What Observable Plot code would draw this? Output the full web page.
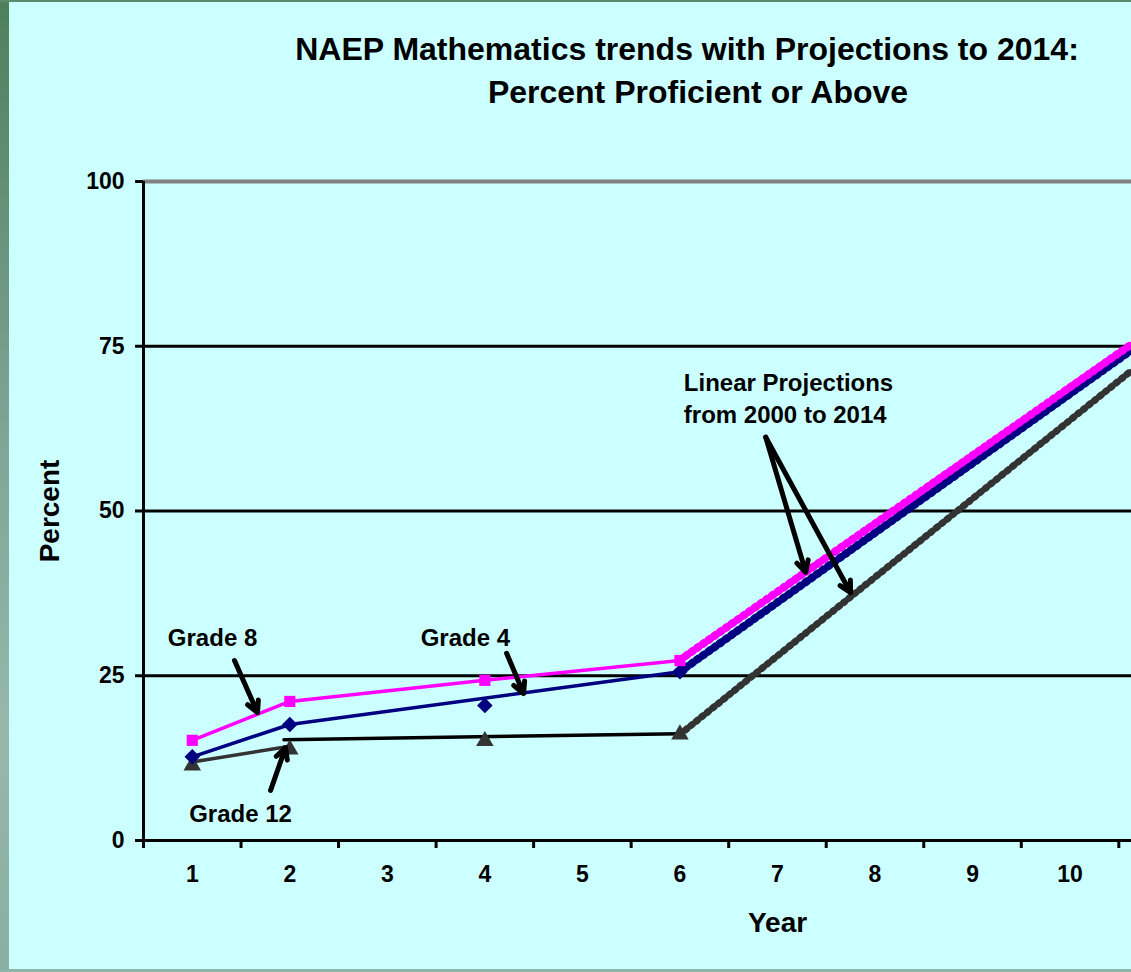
<!DOCTYPE html>
<html><head><meta charset="utf-8">
<script src="https://cdn.jsdelivr.net/npm/d3@7"></script>
<script src="https://cdn.jsdelivr.net/npm/@observablehq/plot@0.6"></script>
<style>
html,body{margin:0;padding:0;background:#CCFFFF;}
#page{position:relative;width:1131px;height:972px;background:#CCFFFF;overflow:hidden;font-family:"Liberation Sans",Arial,sans-serif;color:#000;}
.t{position:absolute;font-weight:bold;font-size:32px;white-space:nowrap;transform:translateX(-50%);line-height:32px;}
#chart{position:absolute;top:130px;left:0;}
#lb{position:absolute;left:0;top:0;width:9px;height:972px;background:linear-gradient(#4e7f5c,#7ea596 45%,#95b8ab 75%,#8aaea0);}
#tb{position:absolute;left:0;top:0;width:1131px;height:2px;background:#5d8c6c;}
#bb{position:absolute;left:0;top:969px;width:1131px;height:3px;background:#8fb3a6;}
</style>
</head><body>
<div id="page">
  <div class="t" style="left:687px;top:33px">NAEP Mathematics trends with Projections to 2014:</div>
  <div class="t" style="left:698px;top:76px">Percent Proficient or Above</div>
  <div id="chart"></div>
  <div id="lb"></div><div id="tb"></div><div id="bb"></div>
</div>
<script>
// ---- data ----
const categories = [1, 2, 4, 6];
const grade8 = [15.2, 21.1, 24.3, 27.3];
const grade4 = [12.7, 17.6, 20.5, 25.6];
const grade12 = [11.4, 13.8, 15.1, 16.1];

// trend lines as drawn in the original
const grade8LineX = [1, 2, 4, 6];
const grade8LineY = [15.2, 21.1, 24.3, 27.3];
const grade4LineX = [1, 2, 6];
const grade4LineY = [12.7, 17.6, 25.6];
const grade12SegX = [1, 2];
const grade12SegY = [11.9, 14.3];
const grade12LineX = [1.94, 6];
const grade12LineY = [15.3, 16.2];

// linear projections 2000 -> 2014
const projX = [6, 10.63];
const proj8 = [27.4, 75.3];
const proj4 = [25.6, 74.4];
const proj12 = [16.1, 71.3];

const xTickLabels = ["1","2","3","4","5","6","7","8","9","10"];
const xLabelPos = [1,2,3,4,5,6,7,8,9,10];
const xTickBounds = [0.5,1.5,2.5,3.5,4.5,5.5,6.5,7.5,8.5,9.5,10.5];
const yTicks = [0, 25, 50, 75, 100];
const gridBlack = [25, 50, 75];
const gridGray = [100];

const gradeLabels = [
  {x: 1.208, y: 30.65, text: "Grade 8"},
  {x: 3.80, y: 30.65, text: "Grade 4"},
  {x: 1.495, y: 3.95, text: "Grade 12"}
];
const projLabel = [{x: 6.04, y: 67.3, text: "Linear Projections\nfrom 2000 to 2014"}];
const arrows = [
  {x1: 1.433, y1: 27.3, x2: 1.669, y2: 19.4},
  {x1: 4.223, y1: 28.4, x2: 4.397, y2: 22.3},
  {x1: 1.803, y1: 7.6, x2: 1.956, y2: 14.1},
  {x1: 6.88, y1: 61.2, x2: 7.29, y2: 40.7},
  {x1: 6.88, y1: 61.2, x2: 7.75, y2: 37.6}
];

const pts = (xs, ys) => xs.map((x, i) => ({x, y: ys[i]}));
const diamond = {draw(ctx, size){ const a = Math.sqrt(size/2); ctx.moveTo(0,-a); ctx.lineTo(a,0); ctx.lineTo(0,a); ctx.lineTo(-a,0); ctx.closePath(); }};

const C8 = "#FF00FF", C4 = "#000080", C12 = "#333333";
const font = '"Liberation Sans", Arial, sans-serif';

const projMarks = (data, color, w) => [
  Plot.line(data, {x: "x", y: "y", stroke: color, strokeWidth: w}),
  Plot.line(data, {x: "x", y: "y", stroke: color, strokeWidth: w + 3, strokeDasharray: "2 5"})
];

const chart = Plot.plot({
  width: 1131, height: 842,
  marginLeft: 143, marginRight: 0, marginTop: 51, marginBottom: 132,
  x: {domain: [0.5, 10.63]},
  y: {domain: [0, 100]},
  style: {background: "transparent", fontFamily: font, overflow: "visible", color: "#000"},
  marks: [
    Plot.ruleY(gridBlack, {stroke: "#000", strokeWidth: 3}),
    Plot.ruleY(gridGray, {stroke: "#808080", strokeWidth: 4}),
    Plot.ruleY([0], {stroke: "#000", strokeWidth: 3}),
    Plot.ruleX([0.5], {y1: 0, y2: 100, stroke: "#000", strokeWidth: 3}),
    Plot.axisY({ticks: yTicks, tickSize: 8, tickPadding: 11, fontSize: 23, fontWeight: "bold", strokeWidth: 3, label: null}),
    Plot.axisX({ticks: xTickBounds, tickSize: 8, tickFormat: () => "", strokeWidth: 3, label: null}),
    Plot.axisX({ticks: xLabelPos, tickSize: 0, tickPadding: 25, tickFormat: d => xTickLabels[d - 1], fontSize: 23, fontWeight: "bold", label: null}),
    Plot.text(["Year"], {text: d => d, frameAnchor: "bottom-left", dx: 634, dy: 83, fontSize: 28, fontWeight: "bold", textAnchor: "middle", lineAnchor: "middle"}),
    Plot.text(["Percent"], {text: d => d, frameAnchor: "left", dx: -93, rotate: -90, fontSize: 28, fontWeight: "bold", textAnchor: "middle", lineAnchor: "middle"}),
    // projections
    ...projMarks(pts(projX, proj12), C12, 4),
    ...projMarks(pts(projX, proj4), C4, 5),
    ...projMarks(pts(projX, proj8), C8, 5),
    // trend lines
    Plot.line(pts(grade12SegX, grade12SegY), {x: "x", y: "y", stroke: C12, strokeWidth: 3.5}),
    Plot.line(pts(grade12LineX, grade12LineY), {x: "x", y: "y", stroke: "#000", strokeWidth: 3.5}),
    Plot.line(pts(grade4LineX, grade4LineY), {x: "x", y: "y", stroke: C4, strokeWidth: 3.5}),
    Plot.line(pts(grade8LineX, grade8LineY), {x: "x", y: "y", stroke: C8, strokeWidth: 3.5}),
    // markers
    Plot.dot(pts(categories, grade12), {x: "x", y: "y", symbol: "triangle", r: 6.5, fill: C12, stroke: "none"}),
    Plot.dot(pts(categories, grade4), {x: "x", y: "y", symbol: diamond, r: 6.2, fill: C4, stroke: "none"}),
    Plot.dot(pts(categories, grade8), {x: "x", y: "y", symbol: "square", r: 6.3, fill: C8, stroke: "none"}),
    // annotations
    Plot.arrow(arrows, {x1: "x1", y1: "y1", x2: "x2", y2: "y2", stroke: "#000", strokeWidth: 5, headLength: 3.8, headAngle: 55}),
    Plot.text(gradeLabels, {x: "x", y: "y", text: "text", textAnchor: "middle", fontSize: 24, fontWeight: "bold", lineAnchor: "middle", fill: "#000"}),
    Plot.text(projLabel, {x: "x", y: "y", text: "text", textAnchor: "start", fontSize: 24, fontWeight: "bold", lineAnchor: "middle", lineHeight: 1.3, fill: "#000"})
  ]
});
document.getElementById("chart").appendChild(chart);
</script>
</body></html>
